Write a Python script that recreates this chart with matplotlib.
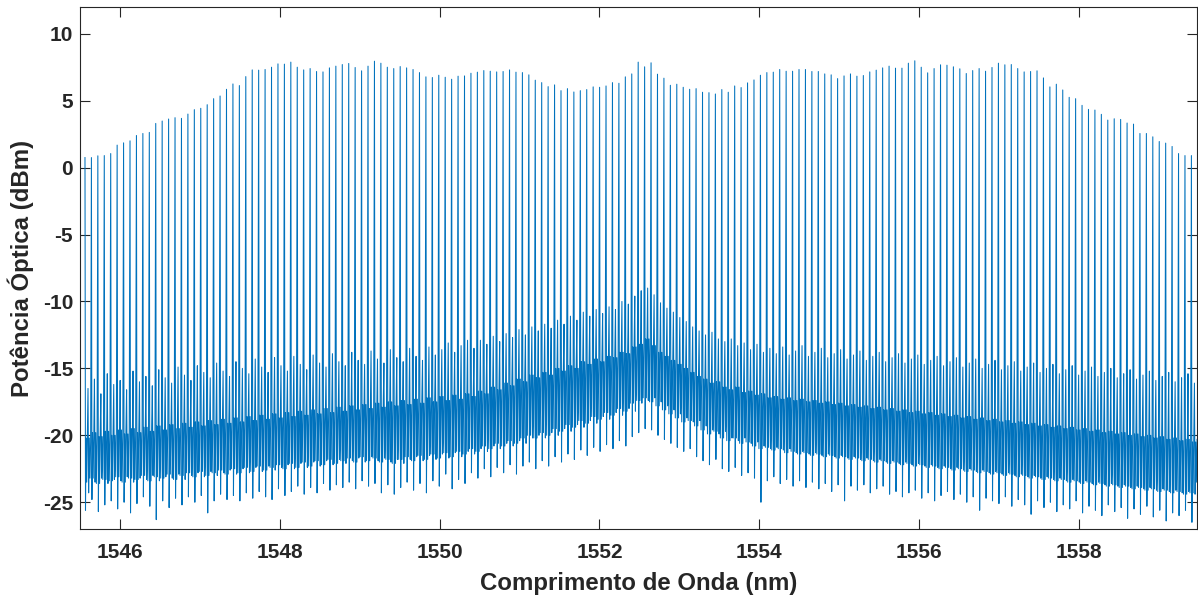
import matplotlib
matplotlib.use("Agg")
import matplotlib.pyplot as plt
import numpy as np

plt.rcParams['axes.unicode_minus'] = False

# comb grid (nm)
first_line_nm = 1545.562
line_spacing_nm = 0.0805

# peak power of every comb line (dBm), left to right
peak_dbm = [
    0.75, 0.75, 0.88, 0.9, 1.05, 1.68, 1.85, 2.0, 2.4, 2.55, 2.63, 3.3, 3.48, 3.63, 3.73, 3.68, 4.0, 4.33, 4.43, 4.7,
    5.15, 5.35, 5.85, 6.25, 6.13, 6.8, 7.3, 7.28, 7.33,
    7.5, 7.75, 7.73, 7.88, 7.5, 7.3, 7.4, 7.18, 7.15, 7.45, 7.58, 7.7, 7.78, 7.48, 7.23, 7.58, 7.95, 7.8, 7.5, 7.4,
    7.55, 7.45, 7.33, 7.1, 6.78, 6.73, 6.9, 6.75, 6.6,
    6.83, 6.85, 7.05, 7.13, 7.25, 7.2, 7.15, 7.18, 7.3, 7.13, 7.1, 6.93, 6.53, 6.35, 6.05, 6.18, 5.75, 5.9, 5.65, 5.75,
    5.83, 6.03, 6.0, 6.1, 6.35, 6.3, 6.78, 7.0, 7.88,
    7.53, 7.83, 6.98, 6.68, 6.15, 6.23, 6.0, 5.85, 5.9, 5.63, 5.6, 5.5, 5.83, 5.63, 6.1, 5.98, 6.33, 6.55, 6.9, 7.1,
    7.13, 7.33, 7.2, 7.2, 7.33, 7.33, 7.18, 7.18, 7.0,
    6.93, 6.65, 6.85, 7.0, 6.83, 6.88, 7.15, 7.28, 7.45, 7.58, 7.43, 7.43, 7.8, 7.98, 7.5, 7.08, 7.4, 7.68, 7.65, 7.53,
    7.38, 7.03, 7.25, 7.4, 7.2, 7.48, 7.8, 7.68, 7.7,
    7.4, 7.15, 7.18, 7.23, 6.7, 6.03, 6.23, 5.8, 5.25, 5.15, 4.65, 4.35, 4.3, 3.98, 3.55, 3.65, 3.6, 3.33, 3.25, 2.55,
    2.55, 2.3, 1.95, 1.83, 1.58, 1.05, 0.9, 0.9,
]

# noise floor between lines (dBm), one value per line gap
dip_dbm = [
    -25.6, -24.8, -25.7, -25.2, -24.9, -25.5, -25.0, -25.8, -25.1, -24.6,
    -25.3, -26.3, -24.9, -25.4, -24.7, -25.2, -24.6, -25.0, -24.5, -25.8,
    -24.9, -24.4, -24.8, -24.5, -24.9, -24.3, -24.7, -24.2, -24.6, -24.8,
    -24.0, -24.5, -24.2, -23.8, -24.4, -23.9, -24.3, -23.6, -24.1, -23.7,
    -23.9, -23.5, -24.0, -23.4, -23.8, -23.6, -24.3, -23.7, -24.4, -23.9,
    -23.5, -24.1, -23.6, -24.3, -23.4, -23.8, -22.9, -24.0, -23.3, -23.6,
    -22.8, -23.2, -22.5, -23.1, -22.4, -22.8, -22.2, -22.9, -22.3, -22.0,
    -22.5, -21.9, -22.3, -21.6, -22.0, -21.4, -21.8, -21.1, -21.5, -20.9,
    -21.2, -20.7, -21.0, -20.4, -20.8, -20.1, -19.8, -19.5, -19.6, -20.0,
    -20.3, -20.6, -20.9, -21.2, -21.0, -21.6, -21.9, -22.2, -21.8, -22.5,
    -22.7, -22.4, -23.0, -22.8, -23.2, -25.0, -23.4, -23.1, -23.6, -23.3,
    -23.8, -23.4, -23.9, -23.5, -24.0, -23.6, -24.2, -23.7, -24.9, -23.8,
    -24.1, -23.7, -24.3, -24.0, -23.8, -24.4, -24.2, -24.6, -24.3, -24.1,
    -24.7, -24.3, -24.9, -24.5, -24.2, -24.8, -24.4, -25.0, -24.6, -25.6,
    -24.7, -24.9, -25.1, -24.6, -25.3, -24.8, -25.2, -25.9, -24.9, -25.4,
    -25.0, -25.7, -25.2, -25.5, -24.9, -25.8, -25.3, -25.6, -26.0, -25.2,
    -25.7, -25.4, -26.2, -25.5, -25.9, -25.3, -26.1, -25.6, -26.4, -25.8,
    -26.0, -25.6, -26.5,
]
floor_low_dbm = [
    -23.5, -23.2, -23.6, -23.3, -23.4, -23.1, -23.5, -23.2, -23.3, -23.0,
    -23.4, -23.1, -23.2, -22.9, -23.3, -23.0, -22.8, -23.1, -22.7, -23.0,
    -22.8, -22.6, -22.9, -22.5, -22.8, -22.4, -22.7, -22.3, -22.6, -22.4,
    -22.2, -22.5, -22.1, -22.4, -22.0, -22.3, -21.9, -22.2, -21.8, -22.1,
    -21.9, -21.7, -22.0, -21.6, -21.9, -21.7, -22.0, -21.8, -22.1, -21.8,
    -21.6, -21.9, -21.5, -21.8, -21.4, -21.7, -21.3, -21.6, -21.2, -21.4,
    -21.0, -21.2, -20.8, -21.0, -20.6, -20.8, -20.4, -20.6, -20.2, -20.0,
    -20.2, -19.8, -20.0, -19.5, -19.7, -19.2, -19.4, -18.9, -19.1, -18.6,
    -18.8, -18.3, -18.5, -18.0, -18.2, -17.6, -17.4, -17.2, -17.5, -17.8,
    -18.1, -18.4, -18.7, -19.0, -18.9, -19.3, -19.6, -19.9, -19.7, -20.2,
    -20.4, -20.2, -20.6, -20.5, -20.8, -21.0, -20.9, -21.1, -21.0, -21.3,
    -21.2, -21.4, -21.3, -21.5, -21.4, -21.6, -21.5, -21.7, -21.6, -21.8,
    -21.7, -21.9, -21.8, -22.0, -21.9, -22.1, -22.0, -22.2, -22.1, -22.3,
    -22.2, -22.4, -22.3, -22.5, -22.4, -22.6, -22.5, -22.7, -22.6, -22.8,
    -22.7, -22.9, -22.8, -23.0, -22.9, -23.1, -23.0, -23.2, -23.1, -23.3,
    -23.2, -23.4, -23.3, -23.5, -23.4, -23.6, -23.5, -23.7, -23.6, -23.8,
    -23.7, -23.9, -23.8, -24.0, -23.9, -24.1, -24.0, -24.2, -24.1, -24.3,
    -24.2, -24.4, -24.3,
]
floor_high_dbm = [
    -20.2, -19.8, -20.1, -19.7, -20.0, -19.6, -19.9, -19.5, -19.8, -19.4,
    -19.7, -19.3, -19.6, -19.2, -19.5, -19.1, -19.4, -19.0, -19.3, -18.9,
    -19.2, -18.8, -19.1, -18.7, -19.0, -18.6, -18.9, -18.5, -18.8, -18.4,
    -18.7, -18.3, -18.6, -18.2, -18.5, -18.1, -18.4, -18.0, -18.3, -17.9,
    -18.2, -17.8, -18.1, -17.7, -18.0, -17.6, -17.9, -17.5, -17.8, -17.4,
    -17.7, -17.3, -17.6, -17.2, -17.5, -17.1, -17.4, -17.0, -17.3, -16.9,
    -17.1, -16.7, -16.9, -16.4, -16.6, -16.1, -16.3, -15.8, -16.0, -15.5,
    -15.7, -15.3, -15.5, -15.0, -15.2, -14.8, -15.0, -14.5, -14.7, -14.3,
    -14.5, -14.1, -14.2, -13.8, -13.9, -13.4, -13.2, -12.8, -13.3, -13.8,
    -14.1, -14.4, -14.7, -15.0, -15.3, -15.6, -15.8, -16.1, -16.0, -16.4,
    -16.6, -16.4, -16.8, -16.7, -17.0, -16.9, -17.2, -17.1, -17.3, -17.2,
    -17.4, -17.3, -17.5, -17.4, -17.6, -17.5, -17.7, -17.6, -17.8, -17.7,
    -17.9, -17.8, -18.0, -17.9, -18.1, -18.0, -18.2, -18.1, -18.3, -18.2,
    -18.4, -18.3, -18.5, -18.4, -18.6, -18.5, -18.7, -18.6, -18.8, -18.7,
    -18.9, -18.8, -19.0, -18.9, -19.1, -19.0, -19.2, -19.1, -19.3, -19.2,
    -19.4, -19.3, -19.5, -19.4, -19.6, -19.5, -19.7, -19.6, -19.8, -19.7,
    -19.9, -19.8, -20.0, -19.9, -20.1, -20.0, -20.2, -20.1, -20.3, -20.2,
    -20.4, -20.3, -20.5,
]
side_peak_dbm = [
    -16.5, -15.8, -16.9, -15.4, -16.2, -15.9, -16.6, -15.2, -16.0, -15.6,
    -16.3, -15.1, -15.7, -16.1, -14.9, -15.5, -15.9, -14.8, -15.3, -15.7,
    -14.6, -15.2, -15.6, -14.5, -15.0, -15.4, -14.3, -14.9, -15.3, -14.2,
    -14.8, -15.2, -14.1, -14.7, -15.1, -14.0, -14.6, -14.9, -13.9, -14.5,
    -14.8, -13.8, -14.4, -14.7, -13.7, -14.3, -14.6, -13.6, -14.2, -14.5,
    -13.5, -14.1, -14.4, -13.4, -14.0, -13.6, -13.1, -13.8, -13.3, -12.9,
    -13.5, -12.9, -13.2, -12.6, -13.0, -12.4, -12.7, -12.1, -12.5, -11.9,
    -12.2, -11.7, -12.0, -11.4, -11.7, -11.1, -11.4, -10.8, -11.1, -10.6,
    -10.9, -10.4, -10.6, -10.0, -10.2, -9.6, -9.2, -9.0, -9.5, -10.1,
    -10.5, -10.8, -11.2, -11.5, -11.9, -12.2, -12.5, -12.3, -12.8, -13.0,
    -12.8, -13.3, -13.1, -13.6, -13.2, -13.8, -13.5, -13.9, -13.4, -14.0,
    -13.7, -13.3, -14.1, -13.8, -13.5, -14.2, -13.9, -13.6, -14.3, -14.0,
    -13.7, -14.4, -14.1, -13.8, -14.5, -14.2, -13.9, -14.6, -14.3, -14.0,
    -14.7, -14.4, -14.1, -14.8, -14.5, -14.2, -14.9, -14.6, -14.3, -15.0,
    -14.7, -14.4, -15.1, -14.8, -14.5, -15.2, -14.9, -14.6, -15.3, -15.0,
    -14.7, -15.4, -15.1, -14.8, -15.5, -15.2, -14.9, -15.6, -15.3, -15.0,
    -15.7, -15.4, -15.1, -15.8, -15.5, -15.2, -15.9, -15.6, -15.3, -16.0,
    -15.7, -15.4, -16.1,
]

n_lines = len(peak_dbm)
wl_lines = first_line_nm + line_spacing_nm * np.arange(n_lines)

# one period of the trace: comb line, then the noisy floor up to the next line
high = np.array(floor_high_dbm)
low = np.array(floor_low_dbm)
frac = np.array([0.0, 0.08, 0.17, 0.27, 0.37, 0.47, 0.57, 0.67, 0.77, 0.88])
vals = np.column_stack([peak_dbm, dip_dbm, high, low, np.roll(high, -1), side_peak_dbm,
                        np.roll(low, 1), high, np.roll(low, -1), np.roll(high, 1)])
x = (wl_lines[:, None] + frac[None, :] * line_spacing_nm).ravel()
y = vals.ravel()

fig = plt.figure(figsize=(11.98, 5.97), dpi=100)
ax = fig.add_axes([0.0668, 0.1139, 0.9325, 0.8744])
ax.plot(x, y, color='#0072BD', lw=0.75)

ax.set_xlim(1545.5, 1559.48)
ax.set_ylim(-27, 12)
ax.set_xticks(np.arange(1546, 1559, 2))
ax.set_yticks(np.arange(-25, 11, 5))

fnt = 'Liberation Sans'
ax.tick_params(direction='in', length=7.5, width=0.8, color='#262626', top=True, right=True,
               labelsize=15, labelcolor='#262626')
ax.tick_params(axis='x', pad=10)
ax.tick_params(axis='y', pad=5)
for lab in ax.get_xticklabels() + ax.get_yticklabels():
    lab.set_fontweight('bold')
    lab.set_family(fnt)
for s in ax.spines.values():
    s.set_color('#262626')
    s.set_linewidth(0.8)

ax.set_xlabel('Comprimento de Onda (nm)', fontsize=17.3, fontweight='bold', family=fnt, color='#262626', labelpad=7)
ax.set_ylabel('Potência Óptica (dBm)', fontsize=17.3, fontweight='bold', family=fnt, color='#262626', labelpad=6)

fig.savefig('out.png', dpi=100)
